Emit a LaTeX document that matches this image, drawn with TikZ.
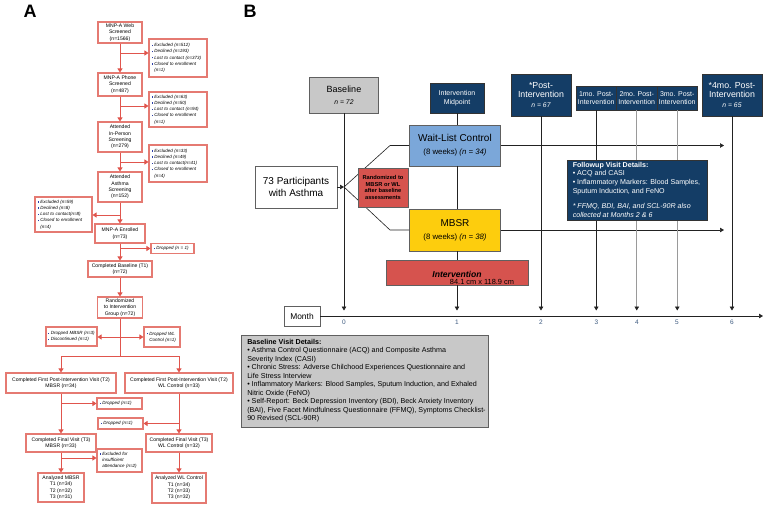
\documentclass[tikz,border=0pt]{standalone}
\usepackage{fontspec}
\setmainfont{Liberation Sans}
\usetikzlibrary{arrows.meta,calc}
\definecolor{boxred}{HTML}{E57A72}
\definecolor{arrred}{HTML}{E0554D}
\definecolor{bulblue}{HTML}{2B3FA8}
\definecolor{navy}{HTML}{143D66}
\definecolor{gfill}{HTML}{C8C8C8}
\definecolor{gdraw}{HTML}{606060}
\definecolor{lblue}{HTML}{7BA7D9}
\definecolor{myyellow}{HTML}{FDCD0D}
\definecolor{myred}{HTML}{D6534E}
\definecolor{ticktxt}{HTML}{3D5A80}
\definecolor{tline}{HTML}{222222}
\definecolor{gline}{HTML}{9A9A9A}
\newcommand{\bsq}{{\color{bulblue}\rule[0.3ex]{1.3pt}{1.3pt}}\hspace{1.5pt}}
\newcommand{\myfs}[2]{\fontsize{#1}{#2}\selectfont}
\tikzset{
  abox/.style={draw=boxred, line width=1.1pt, fill=white, align=center, inner sep=0pt, font=\myfs{5.1}{6.4}},
  blist/.style={draw=boxred, line width=1.1pt, fill=white, align=left, inner sep=0pt, font=\myfs{4.5}{6.2}\itshape},
  aarr/.style={draw=arrred, line width=1pt, -{Triangle[length=4pt,width=5pt]}},
  aline/.style={draw=arrred, line width=1pt},
  panlab/.style={font=\myfs{18}{20}\bfseries, inner sep=0pt},
  gbox/.style={draw=gdraw, line width=0.9pt, fill=gfill, align=center, inner sep=0pt},
  nbox/.style={draw=black!80, line width=0.9pt, fill=navy, text=white, align=center, inner sep=0pt},
  wbox/.style={draw=gdraw, line width=0.9pt, fill=white, align=center, inner sep=0pt},
  bbox/.style={draw=gdraw, line width=0.9pt, fill=lblue, align=center, inner sep=0pt},
  ybox/.style={draw=gdraw, line width=0.9pt, fill=myyellow, align=center, inner sep=0pt},
  rbox/.style={draw=gdraw, line width=0.9pt, fill=myred, align=center, inner sep=0pt},
  barr/.style={draw=tline, line width=0.6pt, -{Triangle[length=4pt,width=4.5pt]}},
  bline/.style={draw=tline, line width=0.6pt},
  gl/.style={draw=gline, line width=1.3pt},
  ticklab/.style={font=\myfs{6.5}{7}, text=ticktxt, inner sep=0pt},
}
\begin{document}
\begin{tikzpicture}[x=1pt,y=-1pt]
\useasboundingbox (0,0) rectangle (764,506);
\fill[white] (0,0) rectangle (764,506);

% ================= Panel A =================
\node[panlab] (labA) at (30,11) {A};

\node[abox, minimum width=44pt, minimum height=21pt] (web) at (120,32.5) {MNP-A Web\\Screened\\(n=1566)};
\node[blist, minimum width=58pt, minimum height=38pt, text width=53pt] (ex1) at (178,58) {\bsq Excluded (n=512)\\\bsq Declined (n=193)\\\bsq Lost to contact (n=373)\\\bsq Closed to enrollment\\\phantom{\bsq}(n=1)};
\node[abox, minimum width=44pt, minimum height=23pt] (phone) at (120,84.5) {MNP-A Phone\\Screened\\(n=487)};
\node[blist, minimum width=58pt, minimum height=35pt, text width=53pt] (ex2) at (178,109.5) {\bsq Excluded (n=63)\\\bsq Declined (n=50)\\\bsq Lost to contact (n=94)\\\bsq Closed to enrollment\\\phantom{\bsq}(n=1)};
\node[abox, minimum width=44pt, minimum height=30pt] (inperson) at (120,137) {Attended\\In-Person\\Screening\\(n=279)};
\node[blist, minimum width=58pt, minimum height=37pt, text width=53pt] (ex3) at (178,163.5) {\bsq Excluded (n=33)\\\bsq Declined (n=49)\\\bsq Lost to contact(n=41)\\\bsq Closed to enrollment\\\phantom{\bsq}(n=4)};
\node[abox, minimum width=44pt, minimum height=30pt] (asthma) at (120,187) {Attended\\Asthma\\Screening\\(n=152)};
\node[blist, minimum width=57pt, minimum height=35pt, text width=52pt] (ex4) at (63.5,214.5) {\bsq Excluded (n=59)\\\bsq Declined (n=8)\\\bsq Lost to contact(n=8)\\\bsq Closed to enrollment\\\phantom{\bsq}(n=4)};
\node[abox, minimum width=50pt, minimum height=19pt] (enrolled) at (120,233.5) {MNP-A Enrolled\\(n=73)};
\node[blist, minimum width=43pt, minimum height=10pt, text width=38pt] (drop1) at (172.5,248.5) {\bsq Dropped (n = 1)};
\node[abox, minimum width=64pt, minimum height=16pt] (baseA) at (120,269) {Completed Baseline (T1)\\(n=72)};
\node[abox, minimum width=45pt, minimum height=21pt] (randA) at (120,307.5) {Randomized\\to Intervention\\Group (n=72)};
\node[blist, minimum width=51pt, minimum height=19pt, text width=47pt] (dropM) at (71.5,336.5) {\bsq Dropped MBSR (n=3)\\\bsq Discontinued (n=1)};
\node[blist, minimum width=36pt, minimum height=20pt, text width=31pt] (dropW) at (162,337) {\bsq Dropped WL\\\phantom{\bsq}Control (n=1)};
\coordinate (br) at (120,356);
\node[abox, minimum width=110pt, minimum height=20pt] (t2m) at (61,383) {Completed First Post-Intervention Visit (T2)\\MBSR (n=34)};
\node[abox, minimum width=108pt, minimum height=20pt] (t2w) at (179,383) {Completed First Post-Intervention Visit (T2)\\WL Control (n=33)};
\node[blist, minimum width=45pt, minimum height=11pt, text width=40pt] (dropM2) at (119.5,403.5) {\bsq Dropped (n=1)};
\node[blist, minimum width=45pt, minimum height=11pt, text width=40pt] (dropW2) at (120.5,423.5) {\bsq Dropped (n=1)};
\node[abox, minimum width=70pt, minimum height=18pt] (t3m) at (61,443) {Completed Final Visit (T3)\\MBSR (n=33)};
\node[abox, minimum width=66pt, minimum height=18pt] (t3w) at (179,443) {Completed Final Visit (T3)\\WL Control (n=32)};
\node[blist, minimum width=45pt, minimum height=23pt, text width=40pt] (excl) at (119.5,460.5) {\bsq Excluded for\\\phantom{\bsq}insufficient\\\phantom{\bsq}attendance (n=2)};
\node[abox, minimum width=46pt, minimum height=29pt] (anM) at (61,487.5) {Analyzed MBSR\\T1 (n=34)\\T2 (n=32)\\T3 (n=31)};
\node[abox, minimum width=54pt, minimum height=30pt] (anW) at (179,488) {Analyzed WL Control\\T1 (n=34)\\T2 (n=33)\\T3 (n=32)};

\draw[aarr] (web.south) -- (phone.north);
\draw[aarr] (web.south |- 0,53) -- (ex1.west |- 0,53);
\draw[aarr] (phone.south) -- (inperson.north);
\draw[aarr] (phone.south |- 0,106) -- (ex2.west |- 0,106);
\draw[aarr] (inperson.south) -- (asthma.north);
\draw[aarr] (inperson.south |- 0,162) -- (ex3.west |- 0,162);
\draw[aarr] (asthma.south) -- (enrolled.north);
\draw[aarr] (asthma.south |- 0,215) -- (ex4.east |- 0,215);
\draw[aarr] (enrolled.south) -- (baseA.north);
\draw[aarr] (enrolled.south |- 0,248.5) -- (drop1.west);
\draw[aarr] (baseA.south) -- (randA.north);
\draw[aline] (randA.south) -- (br);
\draw[aarr] (randA.south |- 0,337) -- (dropM.east |- 0,337);
\draw[aarr] (randA.south |- 0,337) -- (dropW.west |- 0,337);
\draw[aline] (t2m.north |- br) -- (t2w.north |- br);
\draw[aarr] (t2m.north |- br) -- (t2m.north);
\draw[aarr] (t2w.north |- br) -- (t2w.north);
\draw[aarr] (t2m.south) -- (t3m.north);
\draw[aarr] (t2m.south |- 0,403.5) -- (dropM2.west);
\draw[aarr] (t2w.south) -- (t3w.north);
\draw[aarr] (t2w.south |- 0,423.5) -- (dropW2.east);
\draw[aarr] (t3m.south) -- (anM.north);
\draw[aarr] (t3m.south |- 0,458) -- (excl.west |- 0,458);
\draw[aarr] (t3w.south) -- (anW.north);

% ================= Panel B =================
\node[panlab] (labB) at (250,11) {B};

\node[gbox, minimum width=69pt, minimum height=36pt, font=\myfs{9}{11}] (bl) at (344,95) {Baseline\\[1pt]{\myfs{6.8}{8}\itshape n = 72}};
\node[nbox, minimum width=54pt, minimum height=30pt, font=\myfs{7}{8.6}] (mid) at (457,98) {Intervention\\Midpoint};
\node[nbox, minimum width=60pt, minimum height=42pt, font=\myfs{8.8}{9.6}] (post) at (541,95) {*Post-\\Intervention\\{\myfs{6.8}{8}\itshape n = 67}};
\node[nbox, minimum width=40.5pt, minimum height=24pt, font=\myfs{7}{8.6}] (m1) at (596.25,98) {1mo. Post-\\Intervention};
\node[nbox, minimum width=40.5pt, minimum height=24pt, font=\myfs{7}{8.6}] (m2) at (636.75,98) {2mo. Post-\\Intervention};
\node[nbox, minimum width=40.5pt, minimum height=24pt, font=\myfs{7}{8.6}] (m3) at (677.25,98) {3mo. Post-\\Intervention};
\node[nbox, minimum width=60pt, minimum height=42pt, font=\myfs{8.8}{9.6}] (m4) at (732,95) {*4mo. Post-\\Intervention\\{\myfs{6.8}{8}\itshape n = 65}};

\node[bbox, minimum width=91pt, minimum height=41pt, font=\myfs{10}{12}] (wl) at (455,145.5) {Wait-List Control\\[1pt]{\myfs{7.8}{9}(8 weeks) \textit{(n = 34)}}};
\node[ybox, minimum width=91pt, minimum height=42pt, font=\myfs{10}{12}] (mbsr) at (455,230) {MBSR\\[1pt]{\myfs{7.8}{9}(8 weeks) \textit{(n = 38)}}};
\node[rbox, minimum width=142pt, minimum height=25pt] (iv) at (457,272.5) {};
\node[inner sep=0pt, font=\myfs{8.6}{10}\bfseries\itshape] (ivlab) at (457,274) {Intervention};
\node[inner sep=0pt, font=\myfs{7.4}{8}] (ivsize) at (482,282) {84.1 cm x 118.9 cm};

\node[wbox, minimum width=82pt, minimum height=42pt, font=\myfs{10}{12.5}] (p73) at (296,187) {73 Participants\\with Asthma};
\coordinate (J) at (344,187);
\coordinate (ju) at (390,145.5);
\coordinate (jd) at (390,230);
\draw[bline] (J) -- (ju) -- (wl.west);
\draw[bline] (J) -- (jd) -- (mbsr.west);
\node[rbox, minimum width=50pt, minimum height=39pt, font=\myfs{5.7}{6.9}\bfseries] (rand) at (383,187.5) {Randomized to\\MBSR or WL\\after baseline\\assessments};
\draw[barr] (p73.east) -- (J);

\node[wbox, minimum width=36pt, minimum height=20pt, font=\myfs{8.4}{10}] (month) at (302,316) {Month};
\coordinate (axend) at (763,316);
\draw[barr] (month.east) -- (axend);

\node[ticklab] (t0) at (344,322.5) {0};
\node[ticklab] (t1) at (457,322.5) {1};
\node[ticklab] (t2) at (541,322.5) {2};
\node[ticklab] (t3) at (596.5,322.5) {3};
\node[ticklab] (t4) at (637,322.5) {4};
\node[ticklab] (t5) at (677,322.5) {5};
\node[ticklab] (t6) at (732,322.5) {6};
\coordinate (e0) at (344,310.5);
\coordinate (e1) at (457,310.5);
\coordinate (e2) at (541,310.5);
\coordinate (e3) at (596.25,310.5);
\coordinate (e4) at (636.75,310.5);
\coordinate (e5) at (677.25,310.5);
\coordinate (e6) at (732,310.5);

\coordinate (wlend) at (724,145.5);
\coordinate (mbend) at (724,230);
\draw[barr] (wl.east) -- (wlend);
\draw[barr] (mbsr.east) -- (mbend);

\draw[barr] (bl.south) -- (e0);
\draw[bline] (mid.south) -- (mid.south |- wl.north);
\draw[bline] (mid.south |- wl.south) -- (mid.south |- mbsr.north);
\draw[bline] (mid.south |- mbsr.south) -- (iv.north);
\draw[barr] (iv.south) -- (e1);
\draw[barr] (post.south) -- (e2);
\draw[barr] (m1.south) -- (e3);
\draw[gl] (m2.south) -- ($(e4)+(0,-3)$);
\draw[barr] ($(e4)+(0,-3.5)$) -- (e4);
\draw[gl] (m3.south) -- ($(e5)+(0,-3)$);
\draw[barr] ($(e5)+(0,-3.5)$) -- (e5);
\draw[barr] (m4.south) -- (e6);

\node[nbox, minimum width=140pt, minimum height=60pt] (fu) at (637,190) {};
\node[anchor=north west, align=left, inner sep=0pt, text=white, font=\myfs{7.1}{8.6}] (futext) at ($(fu.north west)+(6,2.5)$) {\textbf{Followup Visit Details:}\\\textbullet{} ACQ and CASI\\\textbullet{} Inflammatory Markers: Blood Samples,\\Sputum Induction, and FeNO\\[7pt]\textit{* FFMQ, BDI, BAI, and SCL-90R also}\\\textit{collected at Months 2 \& 6}};

\node[gbox, minimum width=247pt, minimum height=92pt] (bd) at (364.5,381) {};
\node[anchor=north west, align=left, inner sep=0pt, font=\myfs{7.15}{8.5}] (bdtext) at ($(bd.north west)+(6.5,4.5)$) {\textbf{Baseline Visit Details:}\\\textbullet{} Asthma Control Questionnaire (ACQ) and Composite Asthma\\Severity Index (CASI)\\\textbullet{} Chronic Stress: Adverse Chilchood Experiences Questionnaire and\\Life Stress Interview\\\textbullet{} Inflammatory Markers: Blood Samples, Sputum Induction, and Exhaled\\Nitric Oxide (FeNO)\\\textbullet{} Self-Report: Beck Depression Inventory (BDI), Beck Anxiety Inventory\\(BAI), Five Facet Mindfulness Questionnaire (FFMQ), Symptoms Checklist-\\90 Revised (SCL-90R)};
\end{tikzpicture}
\end{document}
